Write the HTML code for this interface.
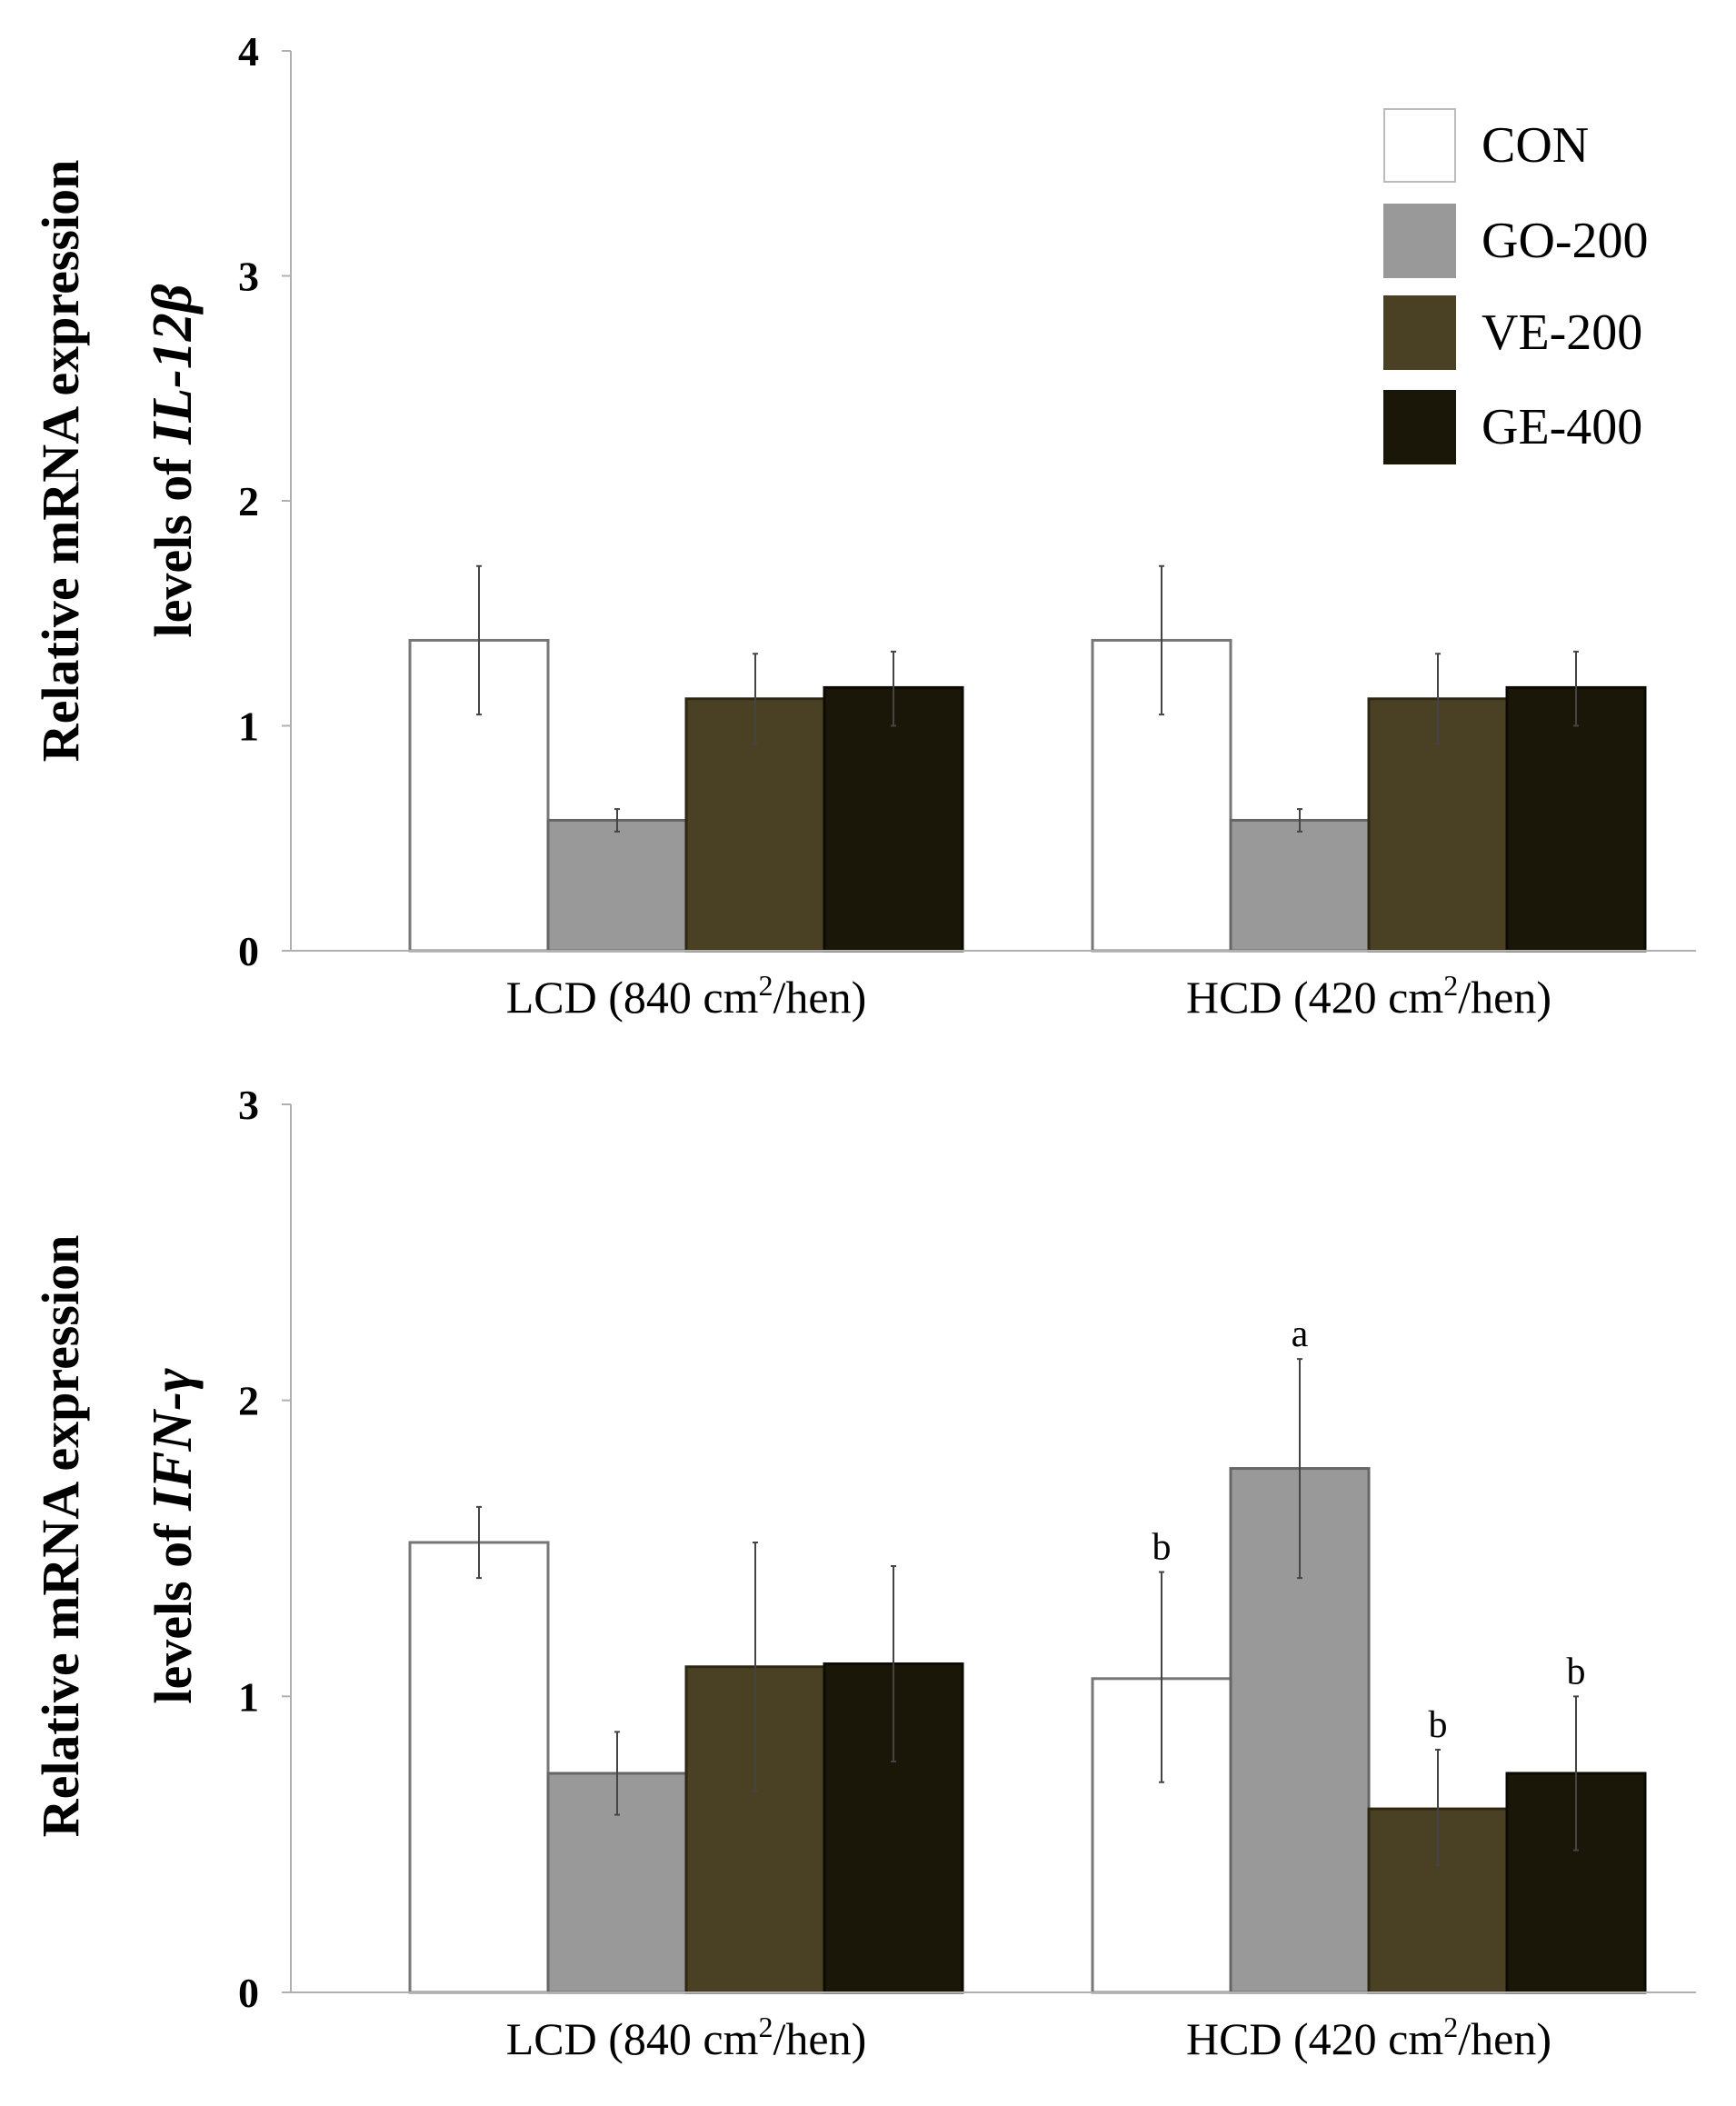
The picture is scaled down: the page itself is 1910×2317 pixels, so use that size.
<!DOCTYPE html>
<html><head><meta charset="utf-8">
<style>html,body{margin:0;padding:0;background:#fff}svg{display:block}</style>
</head><body>
<svg id="chart" width="1910" height="2317" viewBox="0 0 1910 2317" xmlns="http://www.w3.org/2000/svg" font-family="'Liberation Serif', serif"></svg>
<script>
const categories = ["LCD (840 cm²/hen)", "HCD (420 cm²/hen)"];
const seriesNames = ["CON", "GO-200", "VE-200", "GE-400"];
const il12Values = [[1.38, 0.58, 1.12, 1.17], [1.38, 0.58, 1.12, 1.17]];
const il12Low = [[1.05, 0.53, 0.92, 1.0], [1.05, 0.53, 0.92, 1.0]];
const il12High = [[1.71, 0.63, 1.32, 1.33], [1.71, 0.63, 1.32, 1.33]];
const il12Ticks = [0, 1, 2, 3, 4];
const ifnValues = [[1.52, 0.74, 1.10, 1.11], [1.06, 1.77, 0.62, 0.74]];
const ifnLow = [[1.40, 0.60, 0.68, 0.78], [0.71, 1.40, 0.43, 0.48]];
const ifnHigh = [[1.64, 0.88, 1.52, 1.44], [1.42, 2.14, 0.82, 1.00]];
const ifnLetters = [["", "", "", ""], ["b", "a", "b", "b"]];
const ifnTicks = [0, 1, 2, 3];

const NS = "http://www.w3.org/2000/svg";
const svg = document.getElementById("chart");
const fills = ["#ffffff", "#999999", "#4a4125", "#1a1708"];
const strokes = ["#777", "#666", "#2e2812", "#0c0a03"];
function mk(tag, attrs, parent) {
  const e = document.createElementNS(NS, tag);
  for (const k in attrs) e.setAttribute(k, attrs[k]);
  (parent || svg).appendChild(e);
  return e;
}

function panel(opts) {
  const g = mk("g", {});
  
  
  const x0 = 320, xEnd = 1866;
  const yScale = v => opts.y0 - (v / opts.max) * (opts.y0 - opts.yTop);
  const ya = mk("line", {x1: x0, x2: x0, y1: opts.yTop, y2: opts.y0, stroke: "#b0b0b0", "stroke-width": 2}, g);
  
  
  opts.ticks.forEach(t => {
    const y = yScale(t);
    mk("line", {x1: x0 - 10, x2: x0, y1: y, y2: y, stroke: "#b0b0b0", "stroke-width": 2}, g);
    const tx = mk("text", {x: 285, y: y + 16, "font-size": 46, "font-weight": "bold", "text-anchor": "end"}, g);
    tx.textContent = t;
    
    
  });
  const bw = 152;
  const groupStarts = [451, 1202];
  opts.values.forEach((grp, gi) => {
    grp.forEach((v, si) => {
      const x = groupStarts[gi] + si * bw;
      const y = yScale(v);
      const r = mk("rect", {x: x, y: y, width: bw, height: opts.y0 - y, fill: fills[si], stroke: strokes[si], "stroke-width": 3}, g);
      
      
      const cx = x + bw / 2;
      const yl = yScale(opts.low[gi][si]), yh = yScale(opts.high[gi][si]);
      const eb = mk("path", {d: `M${cx},${yh}V${yl}M${cx-3},${yh}H${cx+3}M${cx-3},${yl}H${cx+3}`, stroke: "#444", "stroke-width": 2, fill: "none"}, g);
      
      
      if (opts.letters && opts.letters[gi][si]) {
        const lt = mk("text", {x: cx, y: yh - 14, "font-size": 42, "text-anchor": "middle"}, g);
        lt.textContent = opts.letters[gi][si];
        
        
      }
    });
    const lab = mk("text", {x: groupStarts[gi] + 2 * bw, y: opts.y0 + 68, "font-size": 50, "text-anchor": "middle"}, g);
    const parts = categories[gi].split("²");
    lab.appendChild(document.createTextNode(parts[0]));
    const sup = mk("tspan", {"font-size": 32, dy: -19}, lab);
    sup.textContent = "2";
    const rest = mk("tspan", {dy: 19}, lab);
    rest.textContent = parts[1];
    
    
  });
  const xa = mk("line", {x1: x0 - 10, x2: xEnd, y1: opts.y0, y2: opts.y0, stroke: "#b0b0b0", "stroke-width": 2}, g);
  
  
  const tg = mk("g", {transform: `translate(0,${opts.titleY}) rotate(-90)`}, g);
  
  
  const t1 = mk("text", {x: 0, y: 86, "font-size": 58, "font-weight": "bold", "text-anchor": "middle"}, tg);
  t1.textContent = "Relative mRNA expression";
  const t2 = mk("text", {x: 0, y: 210, "font-size": 58, "font-weight": "bold", "text-anchor": "middle"}, tg);
  t2.textContent = "levels of ";
  const it = mk("tspan", {"font-style": "italic", "font-size": opts.geneSize}, t2);
  it.textContent = opts.gene;
}

panel({name: "il12-panel", yTop: 56, y0: 1046, max: 4, ticks: il12Ticks, values: il12Values, low: il12Low, high: il12High, titleY: 507, gene: "IL-12β", geneSize: 62});
panel({name: "ifn-panel", yTop: 1215, y0: 2192, max: 3, ticks: ifnTicks, values: ifnValues, low: ifnLow, high: ifnHigh, letters: ifnLetters, titleY: 1690, gene: "IFN-γ", geneSize: 62});

const lg = mk("g", {});


const legY = [120, 225, 326, 430];
seriesNames.forEach((n, i) => {
  const r = mk("rect", {x: 1523, y: legY[i], width: 78, height: 80, fill: fills[i], stroke: i === 0 ? "#bbb" : fills[i], "stroke-width": 2}, lg);
  
  
  const t = mk("text", {x: 1630, y: legY[i] + 58, "font-size": 56}, lg);
  t.textContent = n;
  
  
});
</script>
</body></html>
